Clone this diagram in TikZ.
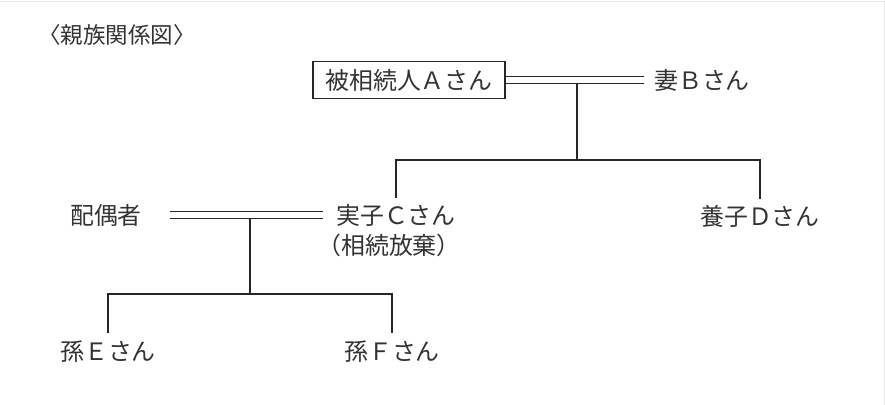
\documentclass[tikz,border=0pt]{standalone}
\usepackage{fontspec}
\setmainfont{Noto Sans CJK JP}
\usetikzlibrary{positioning, calc}

\begin{document}
\begin{tikzpicture}[x=0.025cm,y=-0.025cm,
        kin/.style={inner sep=0pt,font=\fontsize{17}{20}\selectfont,text=black!80},
        kinbox/.style={kin,draw=black!85,line width=1pt,
                       minimum width=4.8cm,minimum height=0.93cm},
        kinline/.style={draw=black!85,line width=1pt},
        marry/.style={draw=black!85,line width=0.9pt,double,double distance=4.5pt}
      ]
        \useasboundingbox (0,0) rectangle (885,405);
        \draw[black!10,line width=0.7pt] (0,1) -- (884,1) -- (884,405);
        % people
        \node[kin,font=\fontsize{16}{19}\selectfont] (title) at (117,35) {〈親族関係図〉};
        \node[kinbox] (heirA) at (409,80) {被相続人Ａさん};
        \node[kin] (wifeB)   at (702,80)  {妻Ｂさん};
        \node[kin] (childC)  at (396,215) {実子Ｃさん};
        \node[kin] (renounce) at (389,245) {（相続放棄）};
        \node[kin] (childD)  at (760,216) {養子Ｄさん};
        \node[kin] (spouseC) at (106,215) {配偶者};
        \node[kin] (grandE)  at (108,352) {孫Ｅさん};
        \node[kin] (grandF)  at (392,352) {孫Ｆさん};
        % couples
        \coordinate (ab)    at (577,83.5);
        \coordinate (abbar) at (577,160);
        \coordinate (cs)    at (250,218.3);
        \coordinate (csbar) at (250,294);
        \draw[marry,shorten >=7pt] (heirA.east) -- (wifeB.west);
        \draw[marry,shorten <=20pt,shorten >=9pt] (spouseC.east) -- (childC.west);
        % children
        \draw[kinline] (ab) -- (abbar);
        \draw[kinline,shorten <=4pt,shorten >=4pt] (childC.north) |- (abbar) -| (childD.north);
        \draw[kinline] (cs) -- (csbar);
        \draw[kinline,shorten <=6pt,shorten >=6pt] (grandE.north) |- (csbar) -| (grandF.north);
      \end{tikzpicture}
\end{document}
